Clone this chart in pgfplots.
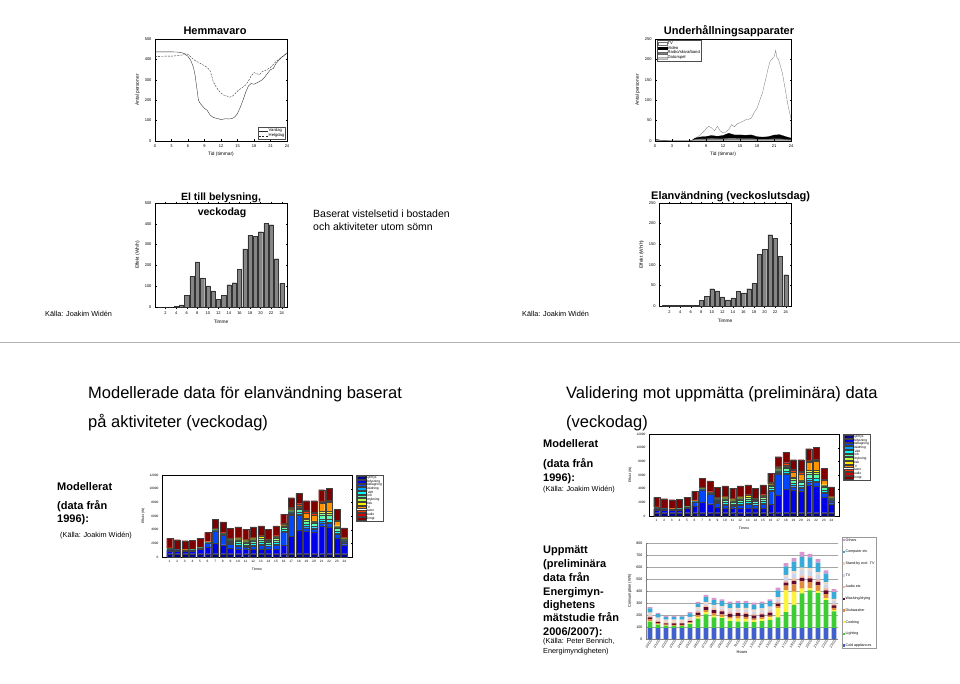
\documentclass[border=0pt]{standalone}
\usepackage{fontspec}
\setmainfont{Liberation Sans}
\usepackage{pgfplots}
\usepackage{pgfplotstable}
\pgfplotsset{compat=1.18}

\definecolor{j1}{rgb}{0,0,0.5625}
\definecolor{j2}{rgb}{0,0,0.92}
\definecolor{j3}{rgb}{0,0.28,1}
\definecolor{j4}{rgb}{0,0.64,1}
\definecolor{j5}{rgb}{0,0.99,1}
\definecolor{j6}{rgb}{0.35,1,0.65}
\definecolor{j7}{rgb}{0.71,1,0.29}
\definecolor{j8}{rgb}{1,0.93,0}
\definecolor{j9}{rgb}{1,0.58,0}
\definecolor{j10}{rgb}{1,0.22,0}
\definecolor{j11}{rgb}{0.86,0,0}
\definecolor{j12}{rgb}{0.5,0,0}
\definecolor{barg}{rgb}{0.52,0.52,0.52}
\definecolor{xcold}{RGB}{65,95,205}
\definecolor{xlight}{RGB}{60,205,50}
\definecolor{xcook}{RGB}{250,245,60}
\definecolor{xdish}{RGB}{225,140,60}
\definecolor{xwash}{RGB}{95,10,45}
\definecolor{xaudio}{RGB}{245,185,165}
\definecolor{xtv}{RGB}{205,215,235}
\definecolor{xstby}{RGB}{240,215,200}
\definecolor{xcomp}{RGB}{55,170,215}
\definecolor{xoth}{RGB}{215,150,205}

\pgfplotstableread{
h v
1 0
2 0
3 0
4 2
5 10
6 55
7 148
8 217
9 140
10 102
11 78
12 38
13 55
14 107
15 117
16 182
17 280
18 345
19 340
20 362
21 403
22 396
23 232
24 113
}\belysning

\pgfplotstableread{
h v
1 2
2 2
3 2
4 2
5 2
6 2
7 2
8 14
9 23
10 42
11 37
12 22
13 15
14 20
15 35
16 32
17 42
18 55
19 125
20 137
21 173
22 164
23 121
24 76
}\helg

\pgfplotstableread{
h c1 c2 c3 c4 c5 c6 c7 c8 c9 c10 c11 c12
1 500 400 100 50 50 100 50 50 20 20 10 1370
2 500 400 100 30 30 50 20 20 10 10 10 1350
3 500 350 100 20 20 30 20 10 10 10 10 1300
4 500 400 100 20 20 30 20 10 10 10 10 1300
5 500 600 150 30 30 50 20 20 10 10 10 1340
6 500 1000 500 50 50 50 30 20 20 20 20 1340
7 500 1500 1800 50 50 50 50 50 30 50 50 1360
8 500 1300 1400 50 50 50 50 50 30 50 50 1570
9 500 800 600 100 150 200 150 100 50 80 50 1400
10 500 700 400 150 250 350 200 150 50 80 50 1540
11 500 600 300 150 200 300 200 150 50 80 50 1500
12 500 600 500 150 250 350 200 150 50 80 50 1540
13 500 700 500 150 300 400 250 200 50 80 50 1390
14 500 600 450 100 200 300 150 150 50 80 50 1450
15 500 700 550 150 250 400 250 150 50 80 50 1440
16 500 1200 1900 200 250 300 150 100 100 150 100 1320
17 500 2500 3100 200 150 200 150 100 150 150 100 1400
18 500 3400 2200 200 300 400 200 100 200 200 100 1530
19 500 3300 500 200 300 500 200 200 700 300 150 1410
20 500 3100 500 200 300 400 150 150 800 300 150 1710
21 500 4000 500 200 400 600 300 200 1200 200 100 1660
22 500 3900 500 200 400 600 300 300 1300 200 100 1760
23 500 2300 500 200 300 450 200 150 600 150 50 1550
24 500 1300 300 100 150 150 100 100 100 50 30 1400
}\jetdata

\pgfplotstableread{
h cold light cook dish wash audio tv stby comp oth
1 90 55 5 15 15 10 10 20 35 10
2 90 30 3 10 10 10 5 20 30 10
3 90 20 2 8 10 8 3 20 22 9
4 90 18 2 8 12 8 3 20 22 9
5 90 18 2 8 12 8 3 20 25 9
6 90 35 5 8 12 10 5 20 28 10
7 90 80 15 15 20 15 10 20 30 14
8 90 115 20 15 25 15 10 20 40 18
9 90 90 15 20 25 15 10 20 40 17
10 90 85 10 20 25 15 10 20 40 16
11 90 60 20 15 25 15 10 20 40 17
12 90 55 25 20 25 15 10 20 40 18
13 90 55 20 20 25 15 15 20 40 18
14 90 50 15 15 25 15 15 20 40 19
15 90 60 15 15 25 15 15 20 40 17
16 90 70 20 15 25 15 15 20 45 16
17 90 90 75 20 20 15 20 20 55 24
18 90 135 180 40 25 15 30 20 70 27
19 90 195 110 60 30 20 40 20 80 29
20 90 290 40 60 30 20 45 20 90 42
21 90 315 20 50 30 20 45 20 90 30
22 90 292 20 45 30 20 40 20 80 29
23 90 235 15 35 30 20 30 20 70 26
24 90 140 10 20 20 15 20 20 55 25
}\meas

\pgfplotsset{
  ml/.style={scale only axis, enlargelimits=false,
    /pgf/number format/assume math mode=true,
    /pgf/number format/1000 sep={},
    tick label style={font=\fontsize{4}{4.5}\selectfont},
    label style={font=\fontsize{4.8}{5.5}\selectfont},
    major tick length=1.5pt, tick style={line width=0.25pt, black},
    axis line style={line width=0.3pt},
    xlabel style={yshift=2pt}, ylabel style={yshift=-2pt}},
  mlbar/.style={ml, ybar, bar width=0.8, xmin=0, xmax=25, ymin=0,
    xtick={2,4,...,24}, xlabel={Timme}, ylabel={Effekt (Wh/h)}},
  jetax/.style={ml, ybar stacked, bar width=0.8, xmin=0, xmax=25, ymin=0, ymax=12000,
    width=190pt, height=82pt, xtick={1,...,24}, ytick={0,2000,...,12000},
    scaled y ticks=false,
    tick label style={font=\fontsize{3.2}{3.5}\selectfont},
    label style={font=\fontsize{3.4}{4}\selectfont},
    major tick length=1pt,
    xlabel={Timme}, ylabel={Effekt (W)},
    legend cell align=left,
    legend style={at={(1.02,1)}, anchor=north west, font=\fontsize{3.3}{3.8}\selectfont,
      inner sep=0.6pt, row sep=0pt, draw=black!70, line width=0.2pt,
      nodes={inner sep=0.25pt, text height=2.5pt, text depth=0.7pt}},
    legend image code/.code={\fill[##1] (0pt,-1.3pt) rectangle (9pt,1.3pt);}},
  jb/.style={fill=#1, draw=black!75, line width=0.05pt},
}

\newcommand\jetplots{%
\addplot[jb=j1] table[x=h,y=c1]{\jetdata};
\addplot[jb=j2] table[x=h,y=c2]{\jetdata};
\addplot[jb=j3] table[x=h,y=c3]{\jetdata};
\addplot[jb=j4] table[x=h,y=c4]{\jetdata};
\addplot[jb=j5] table[x=h,y=c5]{\jetdata};
\addplot[jb=j6] table[x=h,y=c6]{\jetdata};
\addplot[jb=j7] table[x=h,y=c7]{\jetdata};
\addplot[jb=j8] table[x=h,y=c8]{\jetdata};
\addplot[jb=j9] table[x=h,y=c9]{\jetdata};
\addplot[jb=j10] table[x=h,y=c10]{\jetdata};
\addplot[jb=j11] table[x=h,y=c11]{\jetdata};
\addplot[jb=j12] table[x=h,y=c12]{\jetdata};
\legend{Kyl/frys,Belysning,Matlagning,Städning,Tvätt,Tork,Strykning,Disk,TV,Dator,Audio,Övrigt}%
}

\newcommand\T[4]{\node[anchor=base west, inner sep=0pt, font=#1] at (#2pt,-#3pt) {#4};}
\newcommand\fbig{\fontsize{16.5}{19}\selectfont}
\newcommand\fmid{\bfseries\fontsize{11}{13}\selectfont}
\newcommand\fsm{\fontsize{7.3}{9}\selectfont}

\begin{document}
\begin{tikzpicture}
\fill[white] (0pt,0pt) rectangle (960pt,-684pt);
\useasboundingbox (0pt,0pt) rectangle (960pt,-684pt);
\draw[black!30, line width=0.5pt] (0pt,-342pt) -- (960pt,-342pt);

% ---------- Hemmavaro
\begin{axis}[ml, at={(155pt,-141pt)}, anchor=south west, width=132pt, height=102pt,
  xmin=0, xmax=24, ymin=0, ymax=500, xtick={0,3,...,24}, ytick={0,100,...,500},
  xlabel={Tid (timmar)}, ylabel={Antal personer},
  legend cell align=left,
  legend style={at={(0.99,0.015)}, anchor=south east, font=\fontsize{4.2}{5}\selectfont,
    inner sep=0.8pt, row sep=-0.5pt, draw=black!70, line width=0.2pt, nodes={inner sep=0.4pt}},
  legend image code/.code={\draw[#1] (0pt,0pt) -- (9pt,0pt);}]
\addplot[black!85, line width=0.35pt] coordinates {(0,437)(1,437)(2,437)(3,437)(4,436)(5,432)(5.5,425)(6,415)(6.5,395)(7,360)(7.3,320)(7.6,260)(7.9,200)(8.2,185)(8.6,172)(9,160)(9.5,150)(10,128)(10.5,117)(11,112)(11.5,110)(12,104)(12.5,108)(13,109)(13.5,108)(14,110)(14.5,118)(15,135)(15.5,165)(16,200)(16.5,240)(17,270)(17.5,282)(18,278)(18.5,285)(19,292)(19.5,300)(20,315)(20.5,333)(21,350)(21.5,355)(22,380)(22.5,395)(23,410)(23.5,420)(24,430)};
\addplot[black!85, line width=0.35pt, dash pattern=on 2pt off 1.2pt] coordinates {(0,415)(1,415)(2,416)(3,416)(4,418)(5,422)(5.5,428)(6,425)(6.5,412)(7,400)(7.5,390)(8,385)(8.5,375)(9,370)(9.5,360)(10,345)(10.3,320)(10.6,290)(11,270)(11.5,250)(12,235)(12.5,225)(13,222)(13.5,215)(14,218)(14.5,230)(15,245)(15.5,255)(16,265)(16.5,275)(17,295)(17.5,320)(18,335)(18.5,330)(19,325)(19.5,340)(20,345)(20.5,352)(21,360)(21.5,375)(22,390)(22.5,400)(23,410)(23.5,420)(24,432)};
\legend{Vardag,Helgdag}
\end{axis}

% ---------- Underhallningsapparater
\begin{axis}[ml, axis on top, at={(655pt,-141pt)}, anchor=south west, width=136pt, height=102pt,
  xmin=0, xmax=24, ymin=0, ymax=250, xtick={0,3,...,24}, ytick={0,50,...,250},
  xlabel={Tid (timmar)}, ylabel={Antal personer},
  legend cell align=left,
  legend style={at={(0.015,0.99)}, anchor=north west, font=\fontsize{4.2}{5}\selectfont,
    inner sep=0.8pt, row sep=-0.5pt, draw=black!70, line width=0.2pt, nodes={inner sep=0.4pt}},
  legend image code/.code={\draw[#1] (0pt,-1.3pt) rectangle (9pt,1.3pt);}]
\addplot[draw=black!55, fill=white, line width=0.3pt] coordinates {(0,3)(0.5,3)(1,2)(2,1)(3,0)(4,0)(5,0)(6,0)(6.5,2)(7,5)(7.5,10)(8,15)(8.5,22)(9,30)(9.5,36)(10,32)(10.5,25)(11,36)(11.5,25)(12,20)(12.5,22)(13,28)(13.5,40)(14,35)(14.5,42)(15,45)(15.5,48)(16,52)(16.5,53)(17,56)(17.5,70)(18,80)(18.5,100)(19,120)(19.5,150)(20,180)(20.3,195)(20.6,200)(21,206)(21.3,222)(21.5,205)(21.8,200)(22,190)(22.5,165)(23,125)(23.5,85)(24,55)} \closedcycle;
\addplot[draw=black, fill=black, line width=0.2pt] coordinates {(0,3.5)(1,2)(2,0.5)(3,0)(6,0)(6.5,1)(7,7)(8,10)(9,11)(10,13.5)(11,11.5)(12,13.5)(13,19)(14,15)(15,15)(16,14)(17,15)(18,10.5)(19,9.5)(20,10.5)(21,14.5)(22,15.5)(23,11)(24,7)} \closedcycle;
\addplot[draw=black!60, fill=black!50, line width=0.2pt] coordinates {(0,2.5)(1,1.5)(2,0.5)(3,0)(6,0)(6.5,0.5)(7,4)(8,5)(9,5)(10,6.5)(11,5.5)(12,5.5)(13,7)(14,7)(15,6)(16,6)(17,6)(18,4.5)(19,4.5)(20,4.5)(21,5.5)(22,5.5)(23,4)(24,3)} \closedcycle;
\addplot[draw=black!30, fill=black!20, line width=0.2pt] coordinates {(0,0.5)(1,0.5)(2,0)(6,0)(7,1)(9,1)(10,1.5)(12,1.5)(13,2)(17,2)(18,1.5)(22,1.5)(23,1)(24,1)} \closedcycle;
\legend{TV,Video,Radio/skiva/band,Datorspel}
\end{axis}

% ---------- El till belysning
\begin{axis}[mlbar, at={(155pt,-307pt)}, anchor=south west, width=132pt, height=104pt,
  ymax=500, ytick={0,100,...,500}]
\addplot[fill=barg, draw=black!80, line width=0.2pt] table[x=h,y=v]{\belysning};
\end{axis}

% ---------- Elanvandning veckoslutsdag
\begin{axis}[mlbar, at={(659pt,-306pt)}, anchor=south west, width=132pt, height=103pt,
  ymax=250, ytick={0,50,...,250}]
\addplot[fill=barg, draw=black!80, line width=0.2pt] table[x=h,y=v]{\helg};
\end{axis}

% ---------- stacked model charts
\begin{axis}[jetax, at={(162pt,-557pt)}, anchor=south west]
\jetplots
\end{axis}
\begin{axis}[jetax, at={(649pt,-516pt)}, anchor=south west]
\jetplots
\end{axis}

% ---------- measured chart
\begin{axis}[scale only axis, enlargelimits=false, at={(646pt,-639pt)}, anchor=south west,
  width=192pt, height=96pt,
  ybar stacked, bar width=0.6, xmin=0.5, xmax=24.5, ymin=0, ymax=800, ytick={0,100,...,800},
  /pgf/number format/assume math mode=true,
  ymajorgrids, grid style={black!35, line width=0.4pt},
  axis x line*=bottom, axis y line*=left, axis line style={black!50, line width=0.3pt},
  tick style={black!50, line width=0.3pt}, major tick length=1.5pt,
  xtick={1,...,24},
  xticklabels={00:00,01:00,02:00,03:00,04:00,05:00,06:00,07:00,08:00,09:00,10:00,11:00,12:00,13:00,14:00,15:00,16:00,17:00,18:00,19:00,20:00,21:00,22:00,23:00},
  x tick label style={rotate=55, anchor=north east, font=\fontsize{3.3}{3.5}\selectfont, inner sep=0.5pt},
  y tick label style={font=\fontsize{3.6}{4}\selectfont},
  xlabel={Hours}, ylabel={Consumption (Wh)}, label style={font=\fontsize{4}{4.5}\selectfont},
  xlabel style={yshift=2pt}, ylabel style={yshift=-2pt},
  reverse legend, legend cell align=left,
  legend style={at={(1.02,1.0625)}, anchor=north west, font=\fontsize{3.6}{4}\selectfont,
    draw=black!40, line width=0.3pt, inner sep=1pt, row sep=7.6pt,
    nodes={inner sep=0.3pt, text height=2.7pt, text depth=0.8pt}},
  legend image code/.code={\fill[#1] (0.5pt,-1.2pt) rectangle (2.9pt,1.2pt);}]
\addplot[fill=xcold, draw=none] table[x=h,y=cold]{\meas};
\addplot[fill=xlight, draw=none] table[x=h,y=light]{\meas};
\addplot[fill=xcook, draw=none] table[x=h,y=cook]{\meas};
\addplot[fill=xdish, draw=none] table[x=h,y=dish]{\meas};
\addplot[fill=xwash, draw=none] table[x=h,y=wash]{\meas};
\addplot[fill=xaudio, draw=none] table[x=h,y=audio]{\meas};
\addplot[fill=xtv, draw=none] table[x=h,y=tv]{\meas};
\addplot[fill=xstby, draw=none] table[x=h,y=stby]{\meas};
\addplot[fill=xcomp, draw=none] table[x=h,y=comp]{\meas};
\addplot[fill=xoth, draw=none] table[x=h,y=oth]{\meas};
\legend{Cold appliances,Lighting,Cooking,Dishwasher,Washing/drying,Audio etc,TV,Stand-by excl. TV,Computer etc,Others}
\end{axis}

% ---------- texts
\node[anchor=base, inner sep=0pt, font=\fmid] at (215pt,-35pt) {Hemmavaro};
\node[anchor=base, inner sep=0pt, font=\fmid] at (729pt,-35pt) {Underhållningsapparater};
\node[anchor=base, inner sep=0pt, font=\bfseries\fontsize{10.5}{12}\selectfont] at (221pt,-201pt) {El till belysning,};
\node[anchor=base, inner sep=0pt, font=\bfseries\fontsize{10.5}{12}\selectfont] at (222pt,-216pt) {veckodag};
\T{\fontsize{10.5}{12}\selectfont}{313}{218}{Baserat vistelsetid i bostaden}
\T{\fontsize{10.5}{12}\selectfont}{313}{231}{och aktiviteter utom sömn}
\T{\fmid}{651}{200}{Elanvändning (veckoslutsdag)}
\T{\fsm}{45}{316.6}{Källa: Joakim Widén}
\T{\fsm}{522}{316.6}{Källa: Joakim Widén}
\T{\fbig}{88}{398}{Modellerade data för elanvändning baserat}
\T{\fbig}{88}{427}{på aktiviteter (veckodag)}
\T{\fbig}{566}{398}{Validering mot uppmätta (preliminära) data}
\T{\fbig}{566}{427}{(veckodag)}
\T{\fmid}{57}{490}{Modellerat}
\T{\fmid}{57}{509}{(data från}
\T{\fmid}{57}{522}{1996):}
\T{\fsm}{60}{537.6}{(Källa: Joakim Widén)}
\T{\fmid}{543}{447}{Modellerat}
\T{\fmid}{543}{467}{(data från}
\T{\fmid}{543}{481}{1996):}
\T{\fsm}{543}{491.6}{(Källa: Joakim Widén)}
\T{\fmid}{543}{553}{Uppmätt}
\T{\fmid}{543}{567}{(preliminära}
\T{\fmid}{543}{581}{data från}
\T{\fmid}{543}{595}{Energimyn-}
\T{\fmid}{543}{608}{dighetens}
\T{\fmid}{543}{621}{mätstudie från}
\T{\fmid}{543}{635}{2006/2007):}
\T{\fsm}{543}{643.6}{(Källa: Peter Bennich,}
\T{\fsm}{543}{653.6}{Energimyndigheten)}
\end{tikzpicture}
\end{document}
